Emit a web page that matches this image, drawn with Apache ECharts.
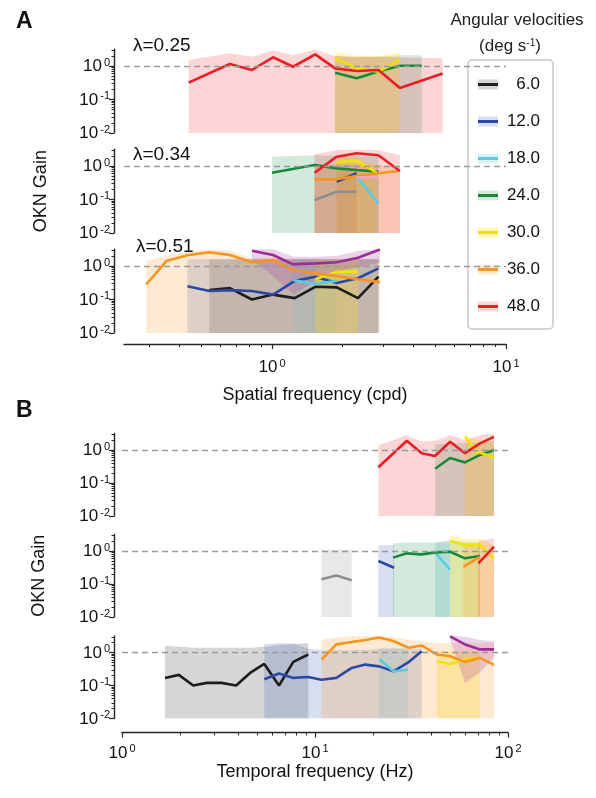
<!DOCTYPE html>
<html>
<head>
<meta charset="utf-8">
<script src="https://cdn.jsdelivr.net/npm/echarts@6/dist/echarts.min.js"></script>
<style>
  html, body { margin: 0; padding: 0; background: #fff; }
  #chart { width: 596px; height: 798px; }
</style>
</head>
<body>
<div id="chart"></div>
<script>
// ---------- data ----------
// Panel A, λ=0.25 : spatial frequency (cpd) vs OKN gain
const a1RedSf = [0.44, 0.66, 0.82, 1.01, 1.23, 1.53, 1.86, 2.30, 2.85, 3.52, 5.36];
const a1RedGain = [0.32, 1.15, 0.76, 1.82, 0.95, 2.23, 0.85, 0.71, 0.76, 0.22, 0.60];
const a1RedHi = [1.5, 2.4, 1.9, 2.9, 2.1, 3.1, 2.0, 1.9, 1.9, 1.8, 1.7];
const a1YellowSf = [1.86, 2.30, 2.85, 3.52];
const a1YellowGain = [1.70, 0.85, 0.68, 1.51];
const a1YellowHi = [2.6, 2.0, 2.0, 2.6];
const a1GreenSf = [1.86, 2.30, 2.85, 3.52, 4.36];
const a1GreenGain = [0.63, 0.43, 0.68, 1.02, 1.02];
const a1GreenHi = [2.0, 1.8, 1.9, 2.1, 2.1];

// Panel A, λ=0.34
const a2GreenSf = [1.00, 1.52, 1.89, 2.30, 2.85];
const a2GreenGain = [0.63, 1.07, 0.85, 0.76, 0.68];
const a2GreenHi = [1.9, 2.1, 2.0, 2.0, 1.9];
const a2RedSf = [1.52, 1.89, 2.30, 2.85, 3.52];
const a2RedGain = [0.63, 1.9, 2.4, 2.1, 0.71];
const a2RedHi = [2.2, 3.0, 3.1, 3.0, 2.1];
const a2YellowSf = [1.89, 2.30, 2.80];
const a2YellowGain = [1.34, 1.44, 0.63];
const a2YellowHi = [1.8, 1.9, 1.0];
const a2OrangeSf = [1.52, 1.89, 2.30, 2.85, 3.52];
const a2OrangeGain = [0.40, 0.40, 0.50, 0.61, 0.72];
const a2OrangeHi = [1.1, 1.1, 1.1, 1.1, 0.9];
const a2BlueSf = [1.89, 2.30];
const a2BlueGain = [0.34, 0.61];
const a2BlueHi = [0.7, 0.9];
const a2CyanSf = [2.30, 2.85];
const a2CyanGain = [0.48, 0.077];
const a2CyanHi = [0.9, 0.4];
const a2GreySf = [1.52, 1.89, 2.30];
const a2GreyGain = [0.097, 0.17, 0.17];
const a2GreyHi = [0.9, 1.1, 1.1];
const a2PinkSf = [2.30, 2.85];
const a2PinkGain = [0.46, 0.46];

// Panel A, λ=0.51
const a3OrangeSf = [0.29, 0.355, 0.44, 0.54, 0.66, 0.82, 1.01, 1.23, 1.53, 1.89, 2.33, 2.89];
const a3OrangeGain = [0.28, 1.44, 2.13, 2.56, 2.13, 1.29, 1.51, 0.76, 0.61, 0.50, 0.40, 0.33];
const a3OrangeHi = [1.4, 2.0, 2.7, 3.1, 2.9, 1.7, 1.8, 1.6, 1.6, 1.6, 1.6, 1.6];
const a3BlueSf = [0.435, 0.54, 0.66, 0.82, 1.01, 1.25, 1.53, 1.89, 2.33, 2.85];
const a3BlueGain = [0.25, 0.18, 0.19, 0.18, 0.14, 0.36, 0.48, 0.31, 0.43, 0.85];
const a3BlueHi = [1.6, 1.6, 1.6, 1.6, 1.6, 1.6, 1.6, 1.6, 1.6, 1.6];
const a3BlackSf = [0.54, 0.66, 0.82, 1.01, 1.25, 1.53, 1.89, 2.33, 2.85];
const a3BlackGain = [0.19, 0.22, 0.10, 0.14, 0.11, 0.24, 0.23, 0.11, 0.48];
const a3BlackHi = [1.6, 1.6, 1.6, 1.6, 1.6, 1.6, 1.6, 1.6, 1.6];
const a3PurpleSf = [0.82, 1.01, 1.23, 1.53, 1.89, 2.33, 2.89];
const a3PurpleGain = [2.86, 2.13, 1.12, 1.20, 1.29, 1.77, 3.1];
const a3PurpleHi = [3.2, 3.2, 1.9, 1.9, 2.0, 2.8, 3.2];
const a3PurpleLo = [1.5, 0.5, 0.14, 0.35, 0.7, 0.9, 1.3];
const a3CyanSf = [1.23, 1.53, 1.89];
const a3CyanGain = [0.38, 0.29, 0.36];
const a3CyanHi = [1.6, 1.6, 1.6];
const a3YellowSf = [1.53, 1.89, 2.33];
const a3YellowGain = [0.40, 0.68, 0.68];
const a3YellowHi = [1.6, 1.6, 1.6];

// Panel B, top : temporal frequency (Hz) vs OKN gain
const b1RedTf = [21.3, 29.9, 35.7, 41.9, 50.1, 59.9, 71.6, 84.6];
const b1RedGain = [0.30, 1.90, 0.80, 0.66, 1.77, 0.80, 1.58, 2.49];
const b1RedHi = [1.4, 2.8, 1.8, 1.9, 2.8, 2.0, 2.8, 3.2];
const b1GreenTf = [41.9, 50.1, 59.9, 71.6, 84.6];
const b1GreenGain = [0.27, 0.57, 0.42, 0.71, 1.0];
const b1GreenHi = [1.5, 1.6, 1.6, 1.7, 1.8];
const b1YellowTf = [59.9, 68.9, 84.6];
const b1YellowGain = [2.49, 0.89, 0.60];
const b1YellowHi = [2.9, 2.0, 1.8];

// Panel B, middle
const b2GreyTf = [10.8, 12.9, 15.5];
const b2GreyGain = [0.14, 0.18, 0.13];
const b2GreyHi = [1.1, 1.1, 1.1];
const b2BlueTf = [21.3, 25.7];
const b2BlueGain = [0.50, 0.31];
const b2BlueHi = [1.5, 1.5];
const b2GreenTf = [25.4, 29.9, 35.7, 41.9, 50.1, 59.9, 71.6];
const b2GreenGain = [0.63, 0.85, 0.79, 0.91, 0.95, 0.60, 0.71];
const b2GreenHi = [1.7, 1.8, 1.8, 1.8, 2.1, 1.9, 1.8];
const b2CyanTf = [41.9, 50.1];
const b2CyanGain = [0.91, 0.27];
const b2CyanHi = [1.8, 1.8];
const b2YellowTf = [50.1, 59.9, 71.6, 84.6];
const b2YellowGain = [2.05, 1.52, 1.52, 0.60];
const b2YellowHi = [3.0, 2.3, 2.4, 1.4];
const b2OrangeTf = [58.7, 71.6];
const b2OrangeGain = [0.33, 0.67];
const b2OrangeHi = [1.5, 1.5];
const b2RedTf = [70.2, 84.6];
const b2RedGain = [0.42, 1.35];
const b2RedHi = [2.0, 2.4];

// Panel B, bottom
const b3BlackTf = [1.67, 1.97, 2.34, 2.75, 3.28, 3.90, 4.61, 5.46, 6.51, 7.72, 9.23];
const b3BlackGain = [0.17, 0.21, 0.10, 0.12, 0.12, 0.10, 0.24, 0.45, 0.10, 0.52, 0.87];
const b3BlackHi = [1.6, 1.5, 1.4, 1.4, 1.4, 1.4, 1.4, 1.5, 1.7, 1.8, 1.9];
const b3BlueTf = [5.46, 6.51, 7.72, 9.23, 10.8, 12.9, 15.5, 18.2, 21.5, 25.5, 30.4, 35.7];
const b3BlueGain = [0.155, 0.23, 0.17, 0.18, 0.15, 0.17, 0.34, 0.43, 0.38, 0.27, 0.50, 1.1];
const b3BlueHi = [1.8, 1.9, 1.9, 1.3, 1.2, 1.2, 1.2, 1.2, 1.3, 1.3, 1.3, 1.3];
const b3OrangeTf = [10.8, 12.9, 15.5, 18.2, 21.5, 25.5, 30.4, 35.7, 42.7, 50.1, 59.9, 71.6, 84.6];
const b3OrangeGain = [0.61, 1.76, 2.07, 2.39, 2.83, 2.23, 1.40, 1.64, 0.87, 0.77, 0.52, 0.69, 0.42];
const b3OrangeHi = [2.4, 2.9, 3.1, 3.2, 3.2, 3.0, 2.4, 2.2, 1.9, 1.9, 1.9, 1.9, 2.0];
const b3CyanTf = [21.5, 25.5, 30.4];
const b3CyanGain = [0.64, 0.27, 0.30];
const b3CyanHi = [1.4, 1.4, 1.4];
const b3YellowTf = [42.7, 50.1, 59.9, 71.6];
const b3YellowGain = [0.54, 0.45, 0.64, 0.69];
const b3YellowHi = [1.1, 1.1, 1.1, 1.1];
const b3PurpleTf = [50.1, 59.9, 71.6, 84.6];
const b3PurpleGain = [3.1, 1.76, 1.24, 1.24];
const b3PurpleHi = [3.3, 3.0, 2.4, 2.2];
const b3PurpleLo = [2.5, 0.12, 0.25, 0.7];

const velocities = ["6.0", "12.0", "18.0", "24.0", "30.0", "36.0", "48.0"];
const yMajor = [0.01, 0.1, 1];
const yMinor = [0.02, 0.03, 0.04, 0.05, 0.06, 0.07, 0.08, 0.09, 0.2, 0.3, 0.4, 0.5, 0.6, 0.7, 0.8, 0.9, 2, 3];
const sfMajor = [1, 10];
const sfMinor = [0.3, 0.4, 0.5, 0.6, 0.7, 0.8, 0.9, 2, 3, 4, 5, 6, 7, 8, 9];
const tfMajor = [1, 10, 100];
const tfMinor = [2, 3, 4, 5, 6, 7, 8, 9, 20, 30, 40, 50, 60, 70, 80, 90];

// ---------- styling ----------
const font = '"Liberation Sans", Arial, Helvetica, sans-serif';
const palette = {
  "6.0": { line: "#1d1d1d", band: "rgba(70,70,70,0.22)" },
  "12.0": { line: "#2c47a6", band: "rgba(60,90,185,0.2)" },
  "18.0": { line: "#5ccbe0", band: "rgba(95,200,225,0.25)" },
  "24.0": { line: "#16883b", band: "rgba(35,145,75,0.2)" },
  "30.0": { line: "#f2e200", band: "rgba(250,228,40,0.3)" },
  "36.0": { line: "#f7941d", band: "rgba(250,160,50,0.22)" },
  "48.0": { line: "#eb1d25", band: "rgba(238,45,55,0.2)" },
  purple: { line: "#9c2c98", band: "rgba(160,50,160,0.22)" },
  grey: { line: "#8e8e8e", band: "rgba(130,130,130,0.18)" },
  pink: { line: "#f3a6c4", band: null }
};

// grids: A (3 rows, 33.5 px/decade) and B (3 rows, 33 px/decade); 10^0 row positions
const gridDefs = [
  { left: 124, width: 382, y0: 66, dec: 33.5 },
  { left: 124, width: 382, y0: 166, dec: 33.5 },
  { left: 124, width: 382, y0: 266, dec: 33.5 },
  { left: 122, width: 386, y0: 450, dec: 33 },
  { left: 122, width: 386, y0: 551, dec: 33 },
  { left: 122, width: 386, y0: 652.5, dec: 33 }
];

const traces = [
  // A1
  { g: 0, key: "24.0", x: a1GreenSf, y: a1GreenGain, hi: a1GreenHi },
  { g: 0, key: "30.0", x: a1YellowSf, y: a1YellowGain, hi: a1YellowHi },
  { g: 0, key: "48.0", x: a1RedSf, y: a1RedGain, hi: a1RedHi },
  // A2
  { g: 1, key: "grey", x: a2GreySf, y: a2GreyGain, hi: a2GreyHi },
  { g: 1, key: "12.0", x: a2BlueSf, y: a2BlueGain, hi: a2BlueHi },
  { g: 1, key: "18.0", x: a2CyanSf, y: a2CyanGain, hi: a2CyanHi },
  { g: 1, key: "24.0", x: a2GreenSf, y: a2GreenGain, hi: a2GreenHi },
  { g: 1, key: "30.0", x: a2YellowSf, y: a2YellowGain, hi: a2YellowHi },
  { g: 1, key: "36.0", x: a2OrangeSf, y: a2OrangeGain, hi: a2OrangeHi },
  { g: 1, key: "pink", x: a2PinkSf, y: a2PinkGain },
  { g: 1, key: "48.0", x: a2RedSf, y: a2RedGain, hi: a2RedHi },
  // A3
  { g: 2, key: "6.0", x: a3BlackSf, y: a3BlackGain, hi: a3BlackHi },
  { g: 2, key: "12.0", x: a3BlueSf, y: a3BlueGain, hi: a3BlueHi },
  { g: 2, key: "18.0", x: a3CyanSf, y: a3CyanGain, hi: a3CyanHi },
  { g: 2, key: "30.0", x: a3YellowSf, y: a3YellowGain, hi: a3YellowHi },
  { g: 2, key: "36.0", x: a3OrangeSf, y: a3OrangeGain, hi: a3OrangeHi },
  { g: 2, key: "purple", x: a3PurpleSf, y: a3PurpleGain, hi: a3PurpleHi, lo: a3PurpleLo },
  // B1
  { g: 3, key: "24.0", x: b1GreenTf, y: b1GreenGain, hi: b1GreenHi },
  { g: 3, key: "30.0", x: b1YellowTf, y: b1YellowGain, hi: b1YellowHi },
  { g: 3, key: "48.0", x: b1RedTf, y: b1RedGain, hi: b1RedHi },
  // B2
  { g: 4, key: "grey", x: b2GreyTf, y: b2GreyGain, hi: b2GreyHi },
  { g: 4, key: "12.0", x: b2BlueTf, y: b2BlueGain, hi: b2BlueHi },
  { g: 4, key: "18.0", x: b2CyanTf, y: b2CyanGain, hi: b2CyanHi },
  { g: 4, key: "24.0", x: b2GreenTf, y: b2GreenGain, hi: b2GreenHi },
  { g: 4, key: "30.0", x: b2YellowTf, y: b2YellowGain, hi: b2YellowHi },
  { g: 4, key: "36.0", x: b2OrangeTf, y: b2OrangeGain, hi: b2OrangeHi },
  { g: 4, key: "48.0", x: b2RedTf, y: b2RedGain, hi: b2RedHi },
  // B3
  { g: 5, key: "6.0", x: b3BlackTf, y: b3BlackGain, hi: b3BlackHi },
  { g: 5, key: "12.0", x: b3BlueTf, y: b3BlueGain, hi: b3BlueHi },
  { g: 5, key: "18.0", x: b3CyanTf, y: b3CyanGain, hi: b3CyanHi },
  { g: 5, key: "30.0", x: b3YellowTf, y: b3YellowGain, hi: b3YellowHi },
  { g: 5, key: "36.0", x: b3OrangeTf, y: b3OrangeGain, hi: b3OrangeHi },
  { g: 5, key: "purple", x: b3PurpleTf, y: b3PurpleGain, hi: b3PurpleHi, lo: b3PurpleLo }
];

const YMIN = 0.01, YMAX = Math.pow(10, 0.5);

function expLabel(v) {
  const e = Math.round(Math.log10(v));
  return "{b|10}{s|" + (e < 0 ? "-" + -e : e) + "}";
}
const labelRich = {
  b: { fontSize: 17, fontFamily: font, color: "#111", lineHeight: 18, verticalAlign: "bottom" },
  s: { fontSize: 11, fontFamily: font, color: "#111", lineHeight: 13, verticalAlign: "top", padding: [0, 0, 0, 2] }
};
const axisColor = "#262626";

const grid = gridDefs.map(d => ({
  left: d.left,
  width: d.width,
  top: d.y0 - 0.5 * d.dec,
  height: 2.5 * d.dec
}));

// y axes: a major (labels) and a minor (short ticks) axis per grid
const yAxis = [];
gridDefs.forEach((d, gi) => {
  const off = gi < 3 ? 10 : 8;
  const major = {
    gridIndex: gi, type: "log", min: YMIN, max: YMAX, position: "left", offset: off,
    axisLine: { show: true, lineStyle: { color: axisColor, width: 1.4 } },
    axisTick: { show: true, length: 5, customValues: yMajor, lineStyle: { color: axisColor, width: 1.2 } },
    axisLabel: { customValues: yMajor, formatter: expLabel, rich: labelRich, margin: 4 },
    splitLine: { show: false }
  };
  if (gi === 1 || gi === 4) {
    major.name = "OKN Gain";
    major.nameLocation = "middle";
    major.nameGap = gi === 1 ? 64 : 66;
    major.nameTextStyle = { fontSize: 18, fontFamily: font, color: "#111" };
  }
  yAxis.push(major);
  yAxis.push({
    gridIndex: gi, type: "log", min: YMIN, max: YMAX, position: "left", offset: off,
    axisLine: { show: false },
    axisTick: { show: true, length: 2.5, customValues: yMinor, lineStyle: { color: axisColor, width: 1 } },
    axisLabel: { show: false },
    splitLine: { show: false }
  });
});

// x axes: one per grid (only bottom rows shown) + minor-tick axes for bottom rows
const xAxis = gridDefs.map((d, gi) => {
  const isA = gi < 3;
  const shown = gi === 2 || gi === 5;
  return {
    gridIndex: gi, type: "log",
    min: isA ? 0.233 : 1, max: isA ? 10 : 100,
    show: shown, position: "bottom", offset: isA ? 11 : 14,
    axisLine: { show: true, lineStyle: { color: axisColor, width: 1.4 } },
    axisTick: { show: true, length: 5, customValues: isA ? sfMajor : tfMajor, lineStyle: { color: axisColor, width: 1.2 } },
    axisLabel: { customValues: isA ? sfMajor : tfMajor, formatter: expLabel, rich: labelRich, margin: isA ? 14 : 11 },
    splitLine: { show: false },
    name: shown ? (isA ? "Spatial frequency (cpd)" : "Temporal frequency (Hz)") : "",
    nameLocation: "middle",
    nameGap: isA ? 42 : 31,
    nameTextStyle: { fontSize: 18, fontFamily: font, color: "#111" }
  };
});
[2, 5].forEach(gi => {
  const isA = gi < 3;
  xAxis.push({
    gridIndex: gi, type: "log", min: isA ? 0.233 : 1, max: isA ? 10 : 100,
    position: "bottom", offset: isA ? 11 : 14,
    axisLine: { show: false },
    axisTick: { show: true, length: 3, customValues: isA ? sfMinor : tfMinor, lineStyle: { color: axisColor, width: 1 } },
    axisLabel: { show: false },
    splitLine: { show: false }
  });
});

// ---------- series ----------
const series = [];

// shaded bands (upper bound down to lower bound / axis floor)
traces.forEach(t => {
  if (!t.hi) return;
  const col = palette[t.key].band;
  series.push({
    type: "custom",
    name: t.key + " ",
    xAxisIndex: t.g,
    yAxisIndex: t.g * 2,
    clip: true,
    silent: true,
    z: 1,
    itemStyle: { color: col },
    encode: { x: 0, y: 1 },
    data: t.x.map((x, i) => [x, t.hi[i]]),
    renderItem: (params, api) => {
      if (params.dataIndex !== 0) return;
      const top = t.x.map((x, i) => api.coord([x, t.hi[i]]));
      const bottom = t.x.map((x, i) => api.coord([x, t.lo ? t.lo[i] : YMIN])).reverse();
      return { type: "polygon", shape: { points: top.concat(bottom) }, style: { fill: col } };
    }
  });
});

// mean gain lines
const dashedDone = {};
traces.forEach(t => {
  const c = palette[t.key].line;
  const s = {
    type: "line",
    name: t.key,
    xAxisIndex: t.g,
    yAxisIndex: t.g * 2,
    data: t.x.map((x, i) => [x, t.y[i]]),
    showSymbol: false,
    symbol: "none",
    silent: true,
    clip: true,
    z: 3,
    itemStyle: { color: c },
    lineStyle: { color: c, width: 2.6 }
  };
  if (!dashedDone[t.g]) {
    dashedDone[t.g] = true;
    s.markLine = {
      silent: true,
      symbol: "none",
      label: { show: false },
      lineStyle: { color: "#9a9a9a", type: [6, 4], width: 1.3 },
      data: [{ yAxis: 1 }]
    };
  }
  series.push(s);
});

// ---------- legend (band swatch under a line swatch) ----------
const legendBase = {
  orient: "vertical",
  left: 468,
  top: 60,
  padding: [16, 13, 14, 10],
  itemGap: 20,
  itemWidth: 20,
  icon: "rect",
  selectedMode: false
};
const legend = [
  Object.assign({}, legendBase, {
    data: velocities.map(v => v + " "),
    itemHeight: 10,
    backgroundColor: "#fff",
    borderColor: "#c9c9c9",
    borderWidth: 1.5,
    borderRadius: 4,
    z: 4,
    formatter: n => "{a|" + n.trim() + "}",
    textStyle: { rich: { a: { width: 37, height: 20, align: "right", fontSize: 17, fontFamily: font, color: "rgba(0,0,0,0)" } } }
  }),
  Object.assign({}, legendBase, {
    data: velocities,
    itemHeight: 3,
    z: 5,
    formatter: n => "{a|" + n + "}",
    textStyle: { rich: { a: { width: 37, height: 20, align: "right", fontSize: 17, fontFamily: font, color: "#111" } } }
  })
];

const titleStyle = { fontSize: 19, fontWeight: "normal", fontFamily: font, color: "#111" };
const title = [
  { text: "A", left: 16, top: 10, padding: 0, textStyle: { fontSize: 23, fontWeight: "bold", fontFamily: font, color: "#111" } },
  { text: "B", left: 16, top: 399, padding: 0, textStyle: { fontSize: 23, fontWeight: "bold", fontFamily: font, color: "#111" } },
  { text: "λ=0.25", left: 133, top: 36, padding: 0, textStyle: titleStyle },
  { text: "λ=0.34", left: 133, top: 145, padding: 0, textStyle: titleStyle },
  { text: "λ=0.51", left: 136, top: 237, padding: 0, textStyle: titleStyle },
  { text: "Angular velocities", left: 517, textAlign: "center", top: 12, padding: 0,
    textStyle: { fontSize: 17, fontWeight: "normal", fontFamily: font, color: "#222" } },
  { text: "(deg s{s|-1})", left: 510, textAlign: "center", top: 38, padding: 0,
    textStyle: { fontSize: 17, fontWeight: "normal", fontFamily: font, color: "#222",
      rich: { s: { fontSize: 10, fontFamily: font, color: "#222", verticalAlign: "top", lineHeight: 10 } } } }
];

const chart = echarts.init(document.getElementById("chart"));
chart.setOption({
  animation: false,
  backgroundColor: "#fff",
  title: title,
  legend: legend,
  grid: grid,
  xAxis: xAxis,
  yAxis: yAxis,
  series: series
});
</script>
</body>
</html>
